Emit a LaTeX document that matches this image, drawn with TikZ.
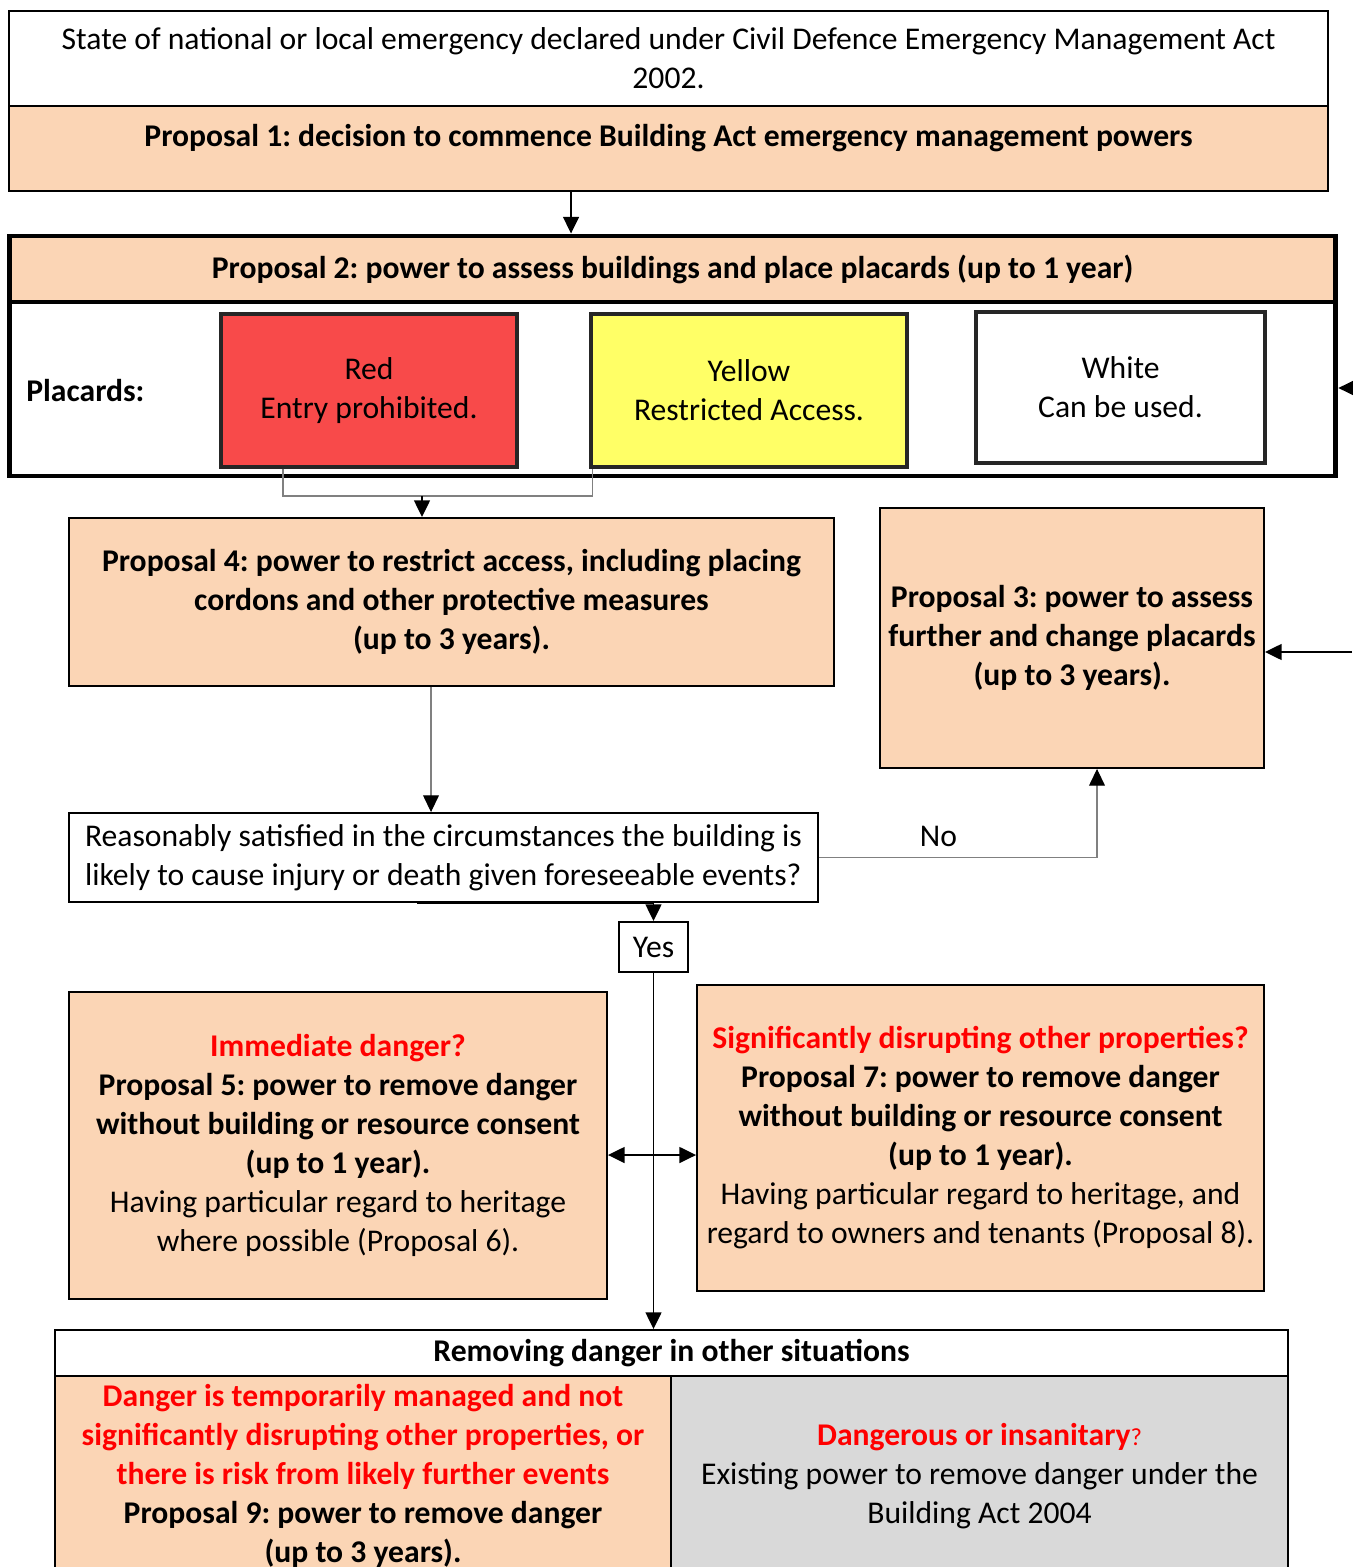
\documentclass[tikz,border=0pt]{standalone}
\usepackage{fontspec}
\setmainfont{Carlito}
\usetikzlibrary{arrows.meta, positioning}

\definecolor{peach}{HTML}{FBD5B5}
\definecolor{greybox}{HTML}{D9D9D9}
\definecolor{redcard}{HTML}{F84A4A}
\definecolor{yellowcard}{HTML}{FFFF66}
\definecolor{alertred}{HTML}{FF0000}

\frenchspacing

\begin{document}
\begin{tikzpicture}[
    x=0.02cm, y=-0.02cm,
    box/.style={rectangle, draw=black, line width=1.1pt, fill=white, inner sep=0pt, align=center},
    peachbox/.style={box, fill=peach},
    thickbox/.style={box, line width=2.8pt},
    card/.style={box, draw=black!85, line width=1.8pt},
    arrow/.style={-{Triangle[length=9.5pt, width=9pt]}, line width=1.1pt},
    twoway/.style={{Triangle[length=9.5pt, width=9pt]}-{Triangle[length=9.5pt, width=9pt]}, line width=1.1pt},
    greyline/.style={draw=black!50, line width=0.6pt},
    greyarrow/.style={-{Triangle[length=9.5pt, width=9pt, color=black]}, draw=black!50, line width=0.6pt}
]
    \fontsize{18}{22.2}\selectfont
    \useasboundingbox (0,0) rectangle (1352,1567);

    % declaration and first decision
    \node[box, minimum width=26.38cm, minimum height=1.9cm] (declared) at (668.5,58.5)
        {State of national or local emergency declared under Civil Defence Emergency Management Act\\ 2002.};
    \node[peachbox, minimum width=26.38cm, minimum height=1.7cm] (prop1) at (668.5,148.5) {};
    \node (prop1text) at (668.5,138) {\textbf{Proposal 1: decision to commence Building Act emergency management powers}};

    % assessment and placards
    \node[thickbox, fill=peach, minimum width=26.54cm, minimum height=1.32cm] (prop2) at (672.5,269)
        {\textbf{Proposal 2: power to assess buildings and place placards (up to 1 year)}};
    \node[thickbox, minimum width=26.54cm, minimum height=3.48cm] (placards) at (672.5,389) {};
    \node[anchor=west, inner sep=0pt] (placardlabel) at (26,391) {\textbf{Placards:}};
    \node[card, fill=redcard, minimum width=5.92cm, minimum height=3.06cm] (red) at (369,390.5)
        {Red\\ Entry prohibited.};
    \node[card, fill=yellowcard, minimum width=6.32cm, minimum height=3.06cm] (yellow) at (749,390.5)
        {Yellow\\ Restricted Access.};
    \node[card, minimum width=5.78cm, minimum height=3.02cm] (white) at (1120.5,387.5)
        {White\\ Can be used.};

    % restricting access and reassessment
    \node[peachbox, minimum width=15.3cm, minimum height=3.36cm] (prop4) at (451.5,602)
        {\textbf{Proposal 4: power to restrict access, including placing}\\
         \textbf{cordons and other protective measures}\\
         \textbf{(up to 3 years).}};
    \node[peachbox, minimum width=7.68cm, minimum height=5.2cm] (prop3) at (1072,638)
        {\textbf{Proposal 3: power to assess}\\
         \textbf{further and change placards}\\
         \textbf{(up to 3 years).}};

    \node[box, align=left, minimum width=14.98cm, minimum height=1.78cm] (question) at (443.5,857.5)
        {Reasonably satisfied in the circumstances the building is\\
         likely to cause injury or death given foreseeable events?};
    \node[box, minimum width=1.38cm, minimum height=1cm] (yes) at (653.5,947) {Yes};

    % removing danger
    \node[peachbox, minimum width=10.76cm, minimum height=6.14cm] (prop5) at (338,1145.5)
        {\textcolor{alertred}{\textbf{Immediate danger?}}\\
         \textbf{Proposal 5: power to remove danger}\\
         \textbf{without building or resource consent}\\
         \textbf{(up to 1 year).}\\
         Having particular regard to heritage\\
         where possible (Proposal 6).};
    \node[peachbox, minimum width=11.34cm, minimum height=6.12cm] (prop7) at (980.5,1138)
        {\textcolor{alertred}{\textbf{Significantly disrupting other properties?}}\\
         \textbf{Proposal 7: power to remove danger}\\
         \textbf{without building or resource consent}\\
         \textbf{(up to 1 year).}\\
         Having particular regard to heritage, and\\
         regard to owners and tenants (Proposal 8).};

    \node[box, minimum width=24.66cm, minimum height=0.92cm] (removing) at (671.5,1353)
        {\textbf{Removing danger in other situations}};
    \node[peachbox, minimum width=12.32cm, minimum height=4cm] (prop9) at (363,1476)
        {\textcolor{alertred}{\textbf{Danger is temporarily managed and not}}\\
         \textcolor{alertred}{\textbf{significantly disrupting other properties, or}}\\
         \textcolor{alertred}{\textbf{there is risk from likely further events}}\\
         \textbf{Proposal 9: power to remove danger}\\
         \textbf{(up to 3 years).}};
    \node[box, fill=greybox, minimum width=12.34cm, minimum height=4cm] (insanitary) at (979.5,1476)
        {\textcolor{alertred}{\textbf{Dangerous or insanitary}{\fontsize{14}{16}\selectfont ?}}\\
         Existing power to remove danger under the\\
         Building Act 2004};

    % connectors
    \coordinate (feedtop) at (1352,388);
    \coordinate (feedmid) at (1352,652);
    \coordinate (merge) at (422,496);
    \coordinate (fork) at (653,1155);

    \draw[arrow] ([xshift=-1.95cm]prop1.south) -- ([xshift=-1.95cm]prop1.south |- prop2.north);
    \draw[arrow] (feedtop) -- (placards.east |- feedtop);
    \draw[greyline] ([xshift=-1.72cm]red.south) |- (merge) -| ([xshift=-3.14cm]yellow.south);
    \draw[arrow] (merge) -- (merge |- prop4.north);
    \draw[arrow] (feedmid) -- (prop3.east |- feedmid);
    \draw[greyarrow] ([xshift=-0.41cm]prop4.south) -- ([xshift=-0.41cm]prop4.south |- question.north);
    \draw[greyarrow] (question.east) -| node[pos=0.215, above, text=black] (nolabel) {No}
        ([xshift=0.5cm]prop3.south);
    \draw[arrow] ([xshift=-0.53cm]question.south) -- (question.south -| yes.north) -- (yes.north);
    \draw[arrow] (yes.south) -- (yes.south |- removing.north);
    \draw[twoway] (fork -| prop5.east) -- (fork -| prop7.west);
\end{tikzpicture}
\end{document}
